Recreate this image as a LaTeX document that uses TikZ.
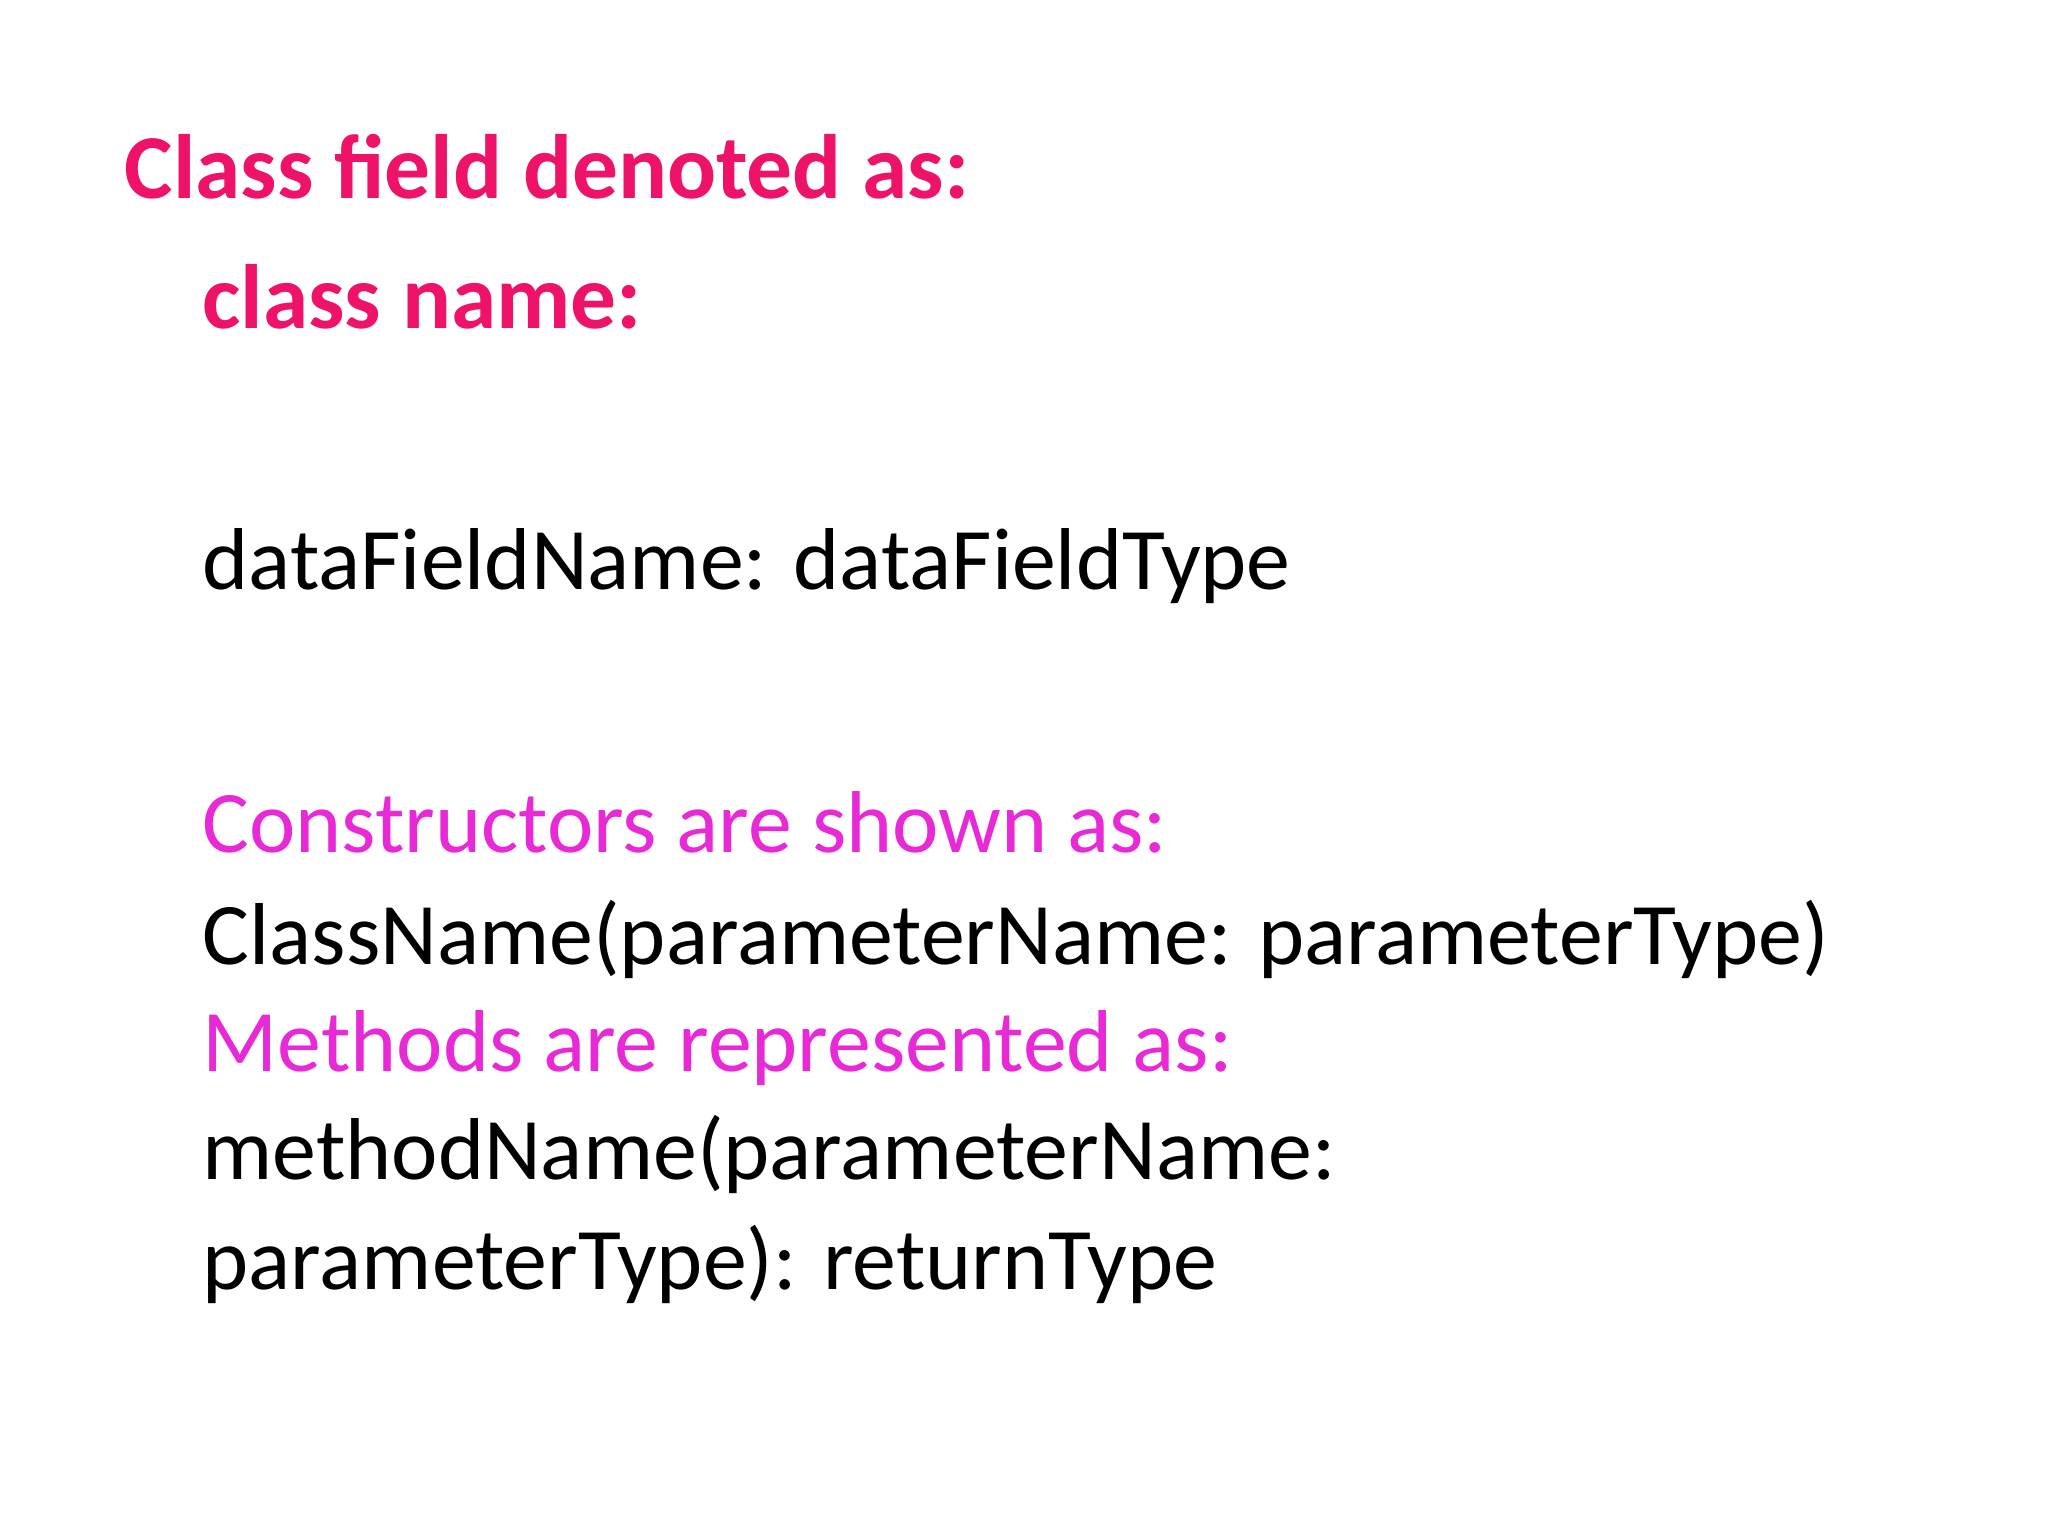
\documentclass[tikz,border=0pt]{standalone}
\usepackage{fontspec}
\setmainfont{Carlito}
\definecolor{titlec}{HTML}{EE1268}
\definecolor{subc}{HTML}{E82AD6}
\begin{document}
\begin{tikzpicture}[x=1cm,y=1cm,
  txt/.style={anchor=base west,inner sep=0pt,font=\fontsize{25}{30}\selectfont},
  ttl/.style={txt,text=titlec,font=\fontsize{26}{31}\selectfont\bfseries}]
\useasboundingbox[fill=white] (0,0) rectangle (20.48,-15.36);
\node[ttl] (t1) at (1.24,-1.99) {Class field denoted as:};
\node[ttl] (t2) at (2.02,-3.29) {class name:};
\node[txt] (d) at (2.02,-5.90) {dataFieldName: dataFieldType};
\node[txt,text=subc] (c1) at (2.02,-8.53) {Constructors are shown as:};
\node[txt] (c2) at (2.02,-9.64) {ClassName(parameterName: parameterType)};
\node[txt,text=subc] (m1) at (2.02,-10.71) {Methods are represented as:};
\node[txt] (m2) at (2.02,-11.79) {methodName(parameterName:};
\node[txt] (m3) at (2.02,-12.89) {parameterType): returnType};
\end{tikzpicture}
\end{document}
